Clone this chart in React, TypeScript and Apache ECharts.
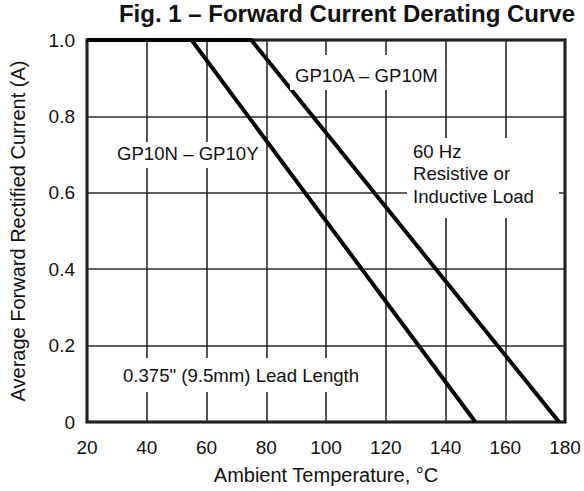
import React, { useEffect, useRef } from "react";
import * as echarts from "echarts";

const titleText = "Fig. 1 – Forward Current Derating Curve";
const xAxisName = "Ambient Temperature, °C";
const yAxisName = "Average Forward Rectified Current (A)";

const xTicks = [20, 40, 60, 80, 100, 120, 140, 160, 180];
const yTicks = [0, 0.2, 0.4, 0.6, 0.8, 1.0];
const yTickLabels = ["0", "0.2", "0.4", "0.6", "0.8", "1.0"];

const seriesNames = ["GP10N – GP10Y", "GP10A – GP10M"];
const tempN = [20, 55, 150];
const currentN = [1.0, 1.0, 0];
const tempA = [20, 75, 178];
const currentA = [1.0, 1.0, 0];

const noteLoad = "60 Hz\nResistive or\nInductive Load";
const noteLead = "0.375\" (9.5mm) Lead Length";

const FONT = "'Liberation Sans', Arial, Helvetica, sans-serif";

export default function App() {
  const ref = useRef<HTMLDivElement>(null);
  useEffect(() => {
    document.body.style.margin = "0";
    if (!ref.current) return;
    const chart = echarts.init(ref.current, null, { renderer: "svg" });
    const lbl = (text: string, x: number, y: number, bx: number, by: number, bw: number, bh: number, va = "middle", lh?: number) => [
      { type: "rect", z: 50, shape: { x: bx, y: by, width: bw, height: bh }, style: { fill: "#fff" } },
      {
        type: "text", z: 51, x, y,
        style: { text, fill: "#111", font: `18.6px ${FONT}`, textVerticalAlign: va, lineHeight: lh },
      },
    ];
    chart.setOption({
      animation: false,
      backgroundColor: "#fff",
      title: {
        text: titleText,
        right: 4,
        top: -4,
        textStyle: { fontFamily: FONT, fontSize: 24, fontWeight: "bold", color: "#111" },
      },
      grid: { left: 85, right: 19, top: 40, bottom: 69, show: true, borderColor: "#000", borderWidth: 3, containLabel: false },
      xAxis: {
        type: "value",
        min: xTicks[0],
        max: xTicks[xTicks.length - 1],
        interval: 20,
        name: xAxisName,
        nameLocation: "middle",
        nameGap: 43,
        nameTextStyle: { fontFamily: FONT, fontSize: 20, color: "#111" },
        axisLine: { show: false },
        axisTick: { show: false },
        axisLabel: { fontFamily: FONT, fontSize: 19, color: "#111", margin: 16 },
        splitLine: { show: true, lineStyle: { color: "#2a2a2a", width: 1.6 } },
      },
      yAxis: {
        type: "value",
        min: yTicks[0],
        max: yTicks[yTicks.length - 1],
        interval: 0.2,
        name: yAxisName,
        nameLocation: "middle",
        nameGap: 59,
        nameTextStyle: { fontFamily: FONT, fontSize: 20, color: "#111" },
        axisLine: { show: false },
        axisTick: { show: false },
        axisLabel: {
          fontFamily: FONT, fontSize: 19, color: "#111", margin: 12,
          formatter: (v: number) => yTickLabels[yTicks.findIndex((t) => Math.abs(t - v) < 1e-6)] ?? String(v),
        },
        splitLine: { show: true, lineStyle: { color: "#2a2a2a", width: 1.6 } },
      },
      series: [
        {
          name: seriesNames[0], type: "line", symbol: "none", clip: false,
          data: tempN.map((t, i) => [t, currentN[i]]),
          lineStyle: { color: "#000", width: 4 },
        },
        {
          name: seriesNames[1], type: "line", symbol: "none", clip: false,
          data: tempA.map((t, i) => [t, currentA[i]]),
          lineStyle: { color: "#000", width: 4 },
        },
      ],
      graphic: [
        ...lbl(seriesNames[1], 295, 75, 290, 55, 152, 35),
        ...lbl(seriesNames[0], 117, 153, 112, 142, 150, 26),
        ...lbl(noteLoad, 413, 140, 407, 138, 152, 80, "top", 22.5),
        ...lbl(noteLead, 123, 375, 118, 358, 247, 34),
      ],
    });
    return () => chart.dispose();
  }, []);
  return <div ref={ref} style={{ width: 584, height: 491 }} />;
}
